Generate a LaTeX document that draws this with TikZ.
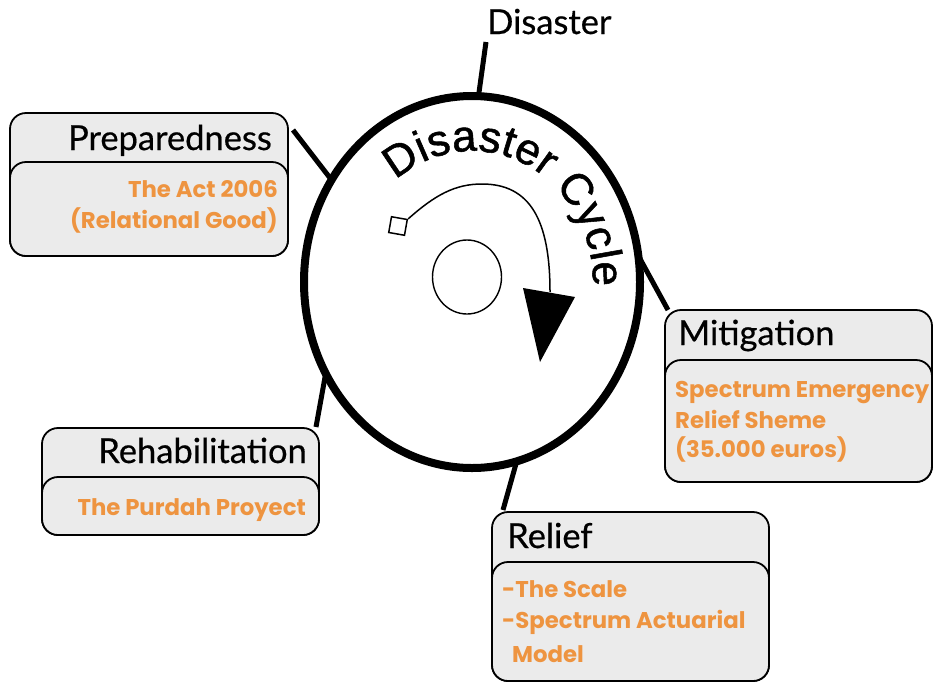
\documentclass[tikz,border=0pt]{standalone}
\usepackage{fontspec}
\usetikzlibrary{shapes.geometric,calc,decorations.text,backgrounds}
\newfontfamily\headfont[FakeBold=0.5]{Lato}
\newfontfamily\orfont{Poppins}
\newfontfamily\cycfont[FakeBold=1.2]{Liberation Sans}
\definecolor{orangetxt}{HTML}{EE9440}
\definecolor{boxgray}{HTML}{EBEBEB}
\begin{document}
\begin{tikzpicture}[x=1pt,y=-1pt,
  box/.style={draw, fill=boxgray, line width=1.8pt, rounded corners=16pt, inner sep=0pt, outer sep=0pt, anchor=north west},
  head/.style={font=\headfont\fontsize{34.5}{38}\selectfont, text=black, inner sep=0pt},
  sub/.style={font=\orfont\bfseries\fontsize{22.8}{26}\selectfont, text=orangetxt, inner sep=0pt},
  link/.style={line width=5pt}]
\useasboundingbox (0,0) rectangle (933,683);
% main cycle
\node[draw, ellipse, line width=8pt, minimum width=336pt, minimum height=372pt, inner sep=0pt, outer sep=0pt] (cyc) at (472,282) {};
\node[draw, ellipse, line width=1.4pt, minimum width=69pt, minimum height=74pt, inner sep=0pt] (hub) at (467,277) {};
\node[draw, line width=1.5pt, minimum size=16pt, inner sep=0pt, rotate=-10] (sq) at (398,226) {};
\coordinate (arrT) at (550,292);
\draw[line width=1.5pt] (sq.north east) .. controls (435,195) and (455,184) .. (482,184) .. controls (530,184) and (550,220) .. (arrT);
\fill (523,288) -- (575,297) -- (540,362) -- cycle;
\path[decorate, decoration={text along path, text={|\cycfont\fontsize{44}{44}\selectfont|Disaster Cycle}, text align=fit to path}]
  ($(cyc.center)+(-129:121 and 131)$) arc[start angle=-129, end angle=2, x radius=121, y radius=131];
% Disaster
\node[head, anchor=base west] (dis) at (487,34) {Disaster};
% Preparedness
\node[box, minimum width=278pt, minimum height=143pt] (prep) at (10,113) {};
\node[box, minimum width=278pt, minimum height=94pt] (prepin) at (10,162) {};
\node[head, anchor=base east] (prept) at (272,150) {Preparedness};
\node[sub, anchor=base east] (prep1) at (278,197) {The Act 2006};
\node[sub, anchor=base east] (prep2) at (278,228) {(Relational Good)};
% Mitigation
\node[box, minimum width=267pt, minimum height=172pt] (mit) at (665,310) {};
\node[box, minimum width=267pt, minimum height=122pt] (mitin) at (665,360) {};
\node[head, anchor=base west] (mitt) at (678,345) {Mitigation};
\node[sub, anchor=base west] (mit1) at (675,397) {Spectrum Emergency};
\node[sub, anchor=base west] (mit2) at (675,428) {Relief Sheme};
\node[sub, anchor=base west] (mit3) at (675,457) {(35.000 euros)};
% Rehabilitation
\node[box, minimum width=277pt, minimum height=107pt] (reh) at (42,428) {};
\node[box, minimum width=277pt, minimum height=58pt] (rehin) at (42,477) {};
\node[head, anchor=base east] (reht) at (307,463) {Rehabilitation};
\node[sub, anchor=base east] (reh1) at (306,515) {The Purdah Proyect};
% Relief
\node[box, minimum width=277pt, minimum height=169pt] (rel) at (492,512) {};
\node[box, minimum width=277pt, minimum height=119pt] (relin) at (492,562) {};
\node[head, anchor=base west] (relt) at (507,548) {Relief};
\node[sub, anchor=base west] (rel1) at (502,597) {-The Scale};
\node[sub, anchor=base west] (rel2) at (502,628) {-Spectrum Actuarial};
\node[sub, anchor=base west] (rel3) at (512,662) {Model};
% connectors
\begin{scope}[on background layer]
\draw[link] (cyc.88) -- ($(dis.base west)+(-1,8)$);
\draw[link] (cyc.144) -- ($(prep.north east)+(5,17)$);
\draw[link] (cyc.9) -- ($(mit.north west)+(3,0)$);
\draw[link] (cyc.212) -- ($(reh.north east)+(-3,-1)$);
\draw[link] (cyc.-76) -- ($(rel.north west)+(11,-2)$);
\end{scope}
\end{tikzpicture}
\end{document}
